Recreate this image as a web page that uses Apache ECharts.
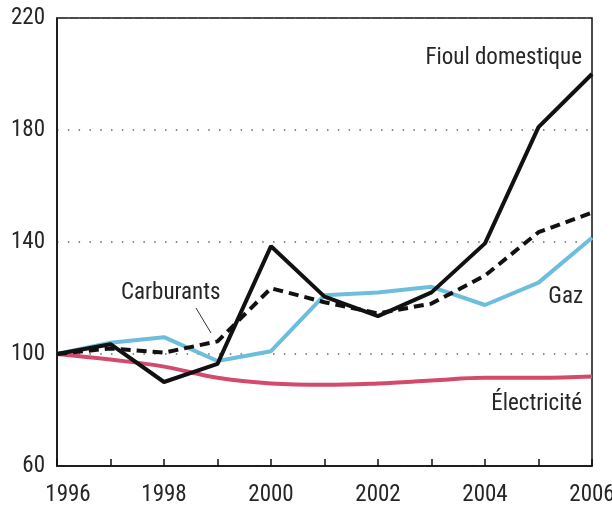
<!DOCTYPE html>
<html>
<head>
<meta charset="utf-8">
<script src="https://cdn.jsdelivr.net/npm/echarts@6/dist/echarts.min.js"></script>
<style>
  html, body { margin: 0; padding: 0; background: #fff; }
  #chart { width: 612px; height: 506px; }
</style>
</head>
<body>
<div id="chart"></div>
<script>
// données (indice base 100 en 1996)
const years = [1996, 1997, 1998, 1999, 2000, 2001, 2002, 2003, 2004, 2005, 2006];
const fioul = [100, 103.5, 90, 96.5, 138.5, 120.5, 113.5, 122, 139.5, 181, 200];
const carburants = [100, 102, 100.5, 104.5, 123.5, 118.5, 114.5, 118, 128, 143.5, 150.5];
const gaz = [100, 104, 106, 97.5, 101, 121, 122, 124, 117.5, 125.5, 141.5];
const electricite = [100, 98, 95.5, 91.5, 89.5, 89, 89.5, 90.5, 91.5, 91.5, 92];
const yTicks = [60, 100, 140, 180, 220];

const FONT = "'Roboto Condensed', 'DejaVu Sans Condensed', 'Liberation Sans', sans-serif";
const TXT = "#262626";

function pairs(vals) {
  return years.map((y, i) => [y, vals[i]]);
}

let chart = echarts.init(document.getElementById("chart"));

let option = {
  backgroundColor: "#fff",
  animation: false,
  grid: {
    left: 57,
    right: 20,
    top: 18,
    bottom: 40,
    outerBoundsMode: "none",
    containLabel: false,
    show: true,
    borderColor: "#111",
    borderWidth: 1.5,
    backgroundColor: "transparent",
  },
  xAxis: {
    type: "value",
    min: 1996,
    max: 2006,
    interval: 1,
    axisLine: { show: true, lineStyle: { color: "#111", width: 1.5 } },
    axisTick: { show: true, inside: true, length: 7, lineStyle: { color: "#111", width: 1.5 } },
    splitLine: { show: false },
    axisLabel: {
      margin: 18,
      color: TXT,
      fontFamily: FONT,
      fontSize: 23,
      showMaxLabel: true,
      hideOverlap: false,
      formatter: (v) => {
        if (v % 2 !== 0) return "";
        // le premier libellé est décalé vers la droite comme dans l'original
        return v === years[0] ? "{first|" + v + "}" : String(v);
      },
      rich: {
        first: { fontFamily: FONT, fontSize: 23, color: TXT, padding: [0, 0, 0, 22] },
      },
    },
  },
  yAxis: {
    type: "value",
    min: yTicks[0],
    max: yTicks[yTicks.length - 1],
    interval: 40,
    axisLine: { show: true, lineStyle: { color: "#111", width: 1.5 } },
    axisTick: { show: false },
    axisLabel: {
      margin: 12,
      color: TXT,
      fontFamily: FONT,
      fontSize: 23,
    },
    splitLine: {
      show: true,
      lineStyle: { color: "#666", width: 1.5, type: [1.5, 9.3] },
    },
  },
  series: [
    {
      name: "Électricité",
      type: "line",
      data: pairs(electricite),
      smooth: 0.4,
      symbol: "none",
      lineStyle: { color: "#d34b6c", width: 4 },
      z: 2,
    },
    {
      name: "Gaz",
      type: "line",
      data: pairs(gaz),
      symbol: "none",
      lineStyle: { color: "#6dbedd", width: 4 },
      z: 3,
    },
    {
      name: "Carburants",
      type: "line",
      data: pairs(carburants),
      symbol: "none",
      lineStyle: { color: "#111", width: 4, type: [10, 6] },
      z: 4,
    },
    {
      name: "Fioul domestique",
      type: "line",
      data: pairs(fioul),
      symbol: "none",
      lineStyle: { color: "#111", width: 4 },
      z: 5,
    },
  ],
  graphic: [
    {
      type: "text",
      right: 30,
      top: 47,
      style: { text: "Fioul domestique", font: "23px " + FONT, fill: TXT },
    },
    {
      type: "text",
      right: 29,
      top: 286,
      style: { text: "Gaz", font: "23px " + FONT, fill: TXT },
    },
    {
      type: "text",
      right: 30,
      top: 393,
      style: { text: "Électricité", font: "23px " + FONT, fill: TXT },
    },
    {
      type: "text",
      left: 121,
      top: 282,
      style: { text: "Carburants", font: "23px " + FONT, fill: TXT },
    },
    {
      type: "line",
      shape: { x1: 196, y1: 308, x2: 211, y2: 333 },
      style: { stroke: "#333", lineWidth: 1 },
    },
  ],
};

chart.setOption(option);
</script>
</body>
</html>
